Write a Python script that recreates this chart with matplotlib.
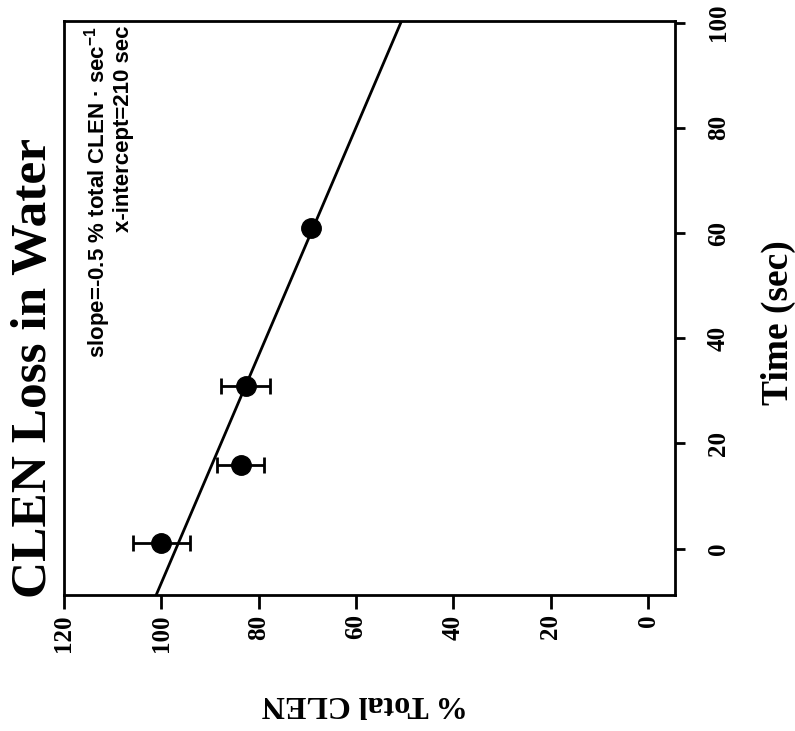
import matplotlib
matplotlib.use("Agg")
import matplotlib.pyplot as plt
from matplotlib import font_manager
import numpy as np

# Measurements: time after addition vs. percentage of total CLEN remaining
time_sec = [1, 16, 31, 61]
pct_total = [100.0, 83.7, 82.7, 69.3]
pct_err = [5.9, 4.8, 5.0, 0.5]

# Linear fit, defined by its intercepts
fit_y_intercept = 97.0      # % total CLEN at t = 0
fit_x_intercept = 210.0     # sec
fit_slope = -fit_y_intercept / fit_x_intercept

pct_ticks = [120, 100, 80, 60, 40, 20, 0]
time_ticks = [0, 20, 40, 60, 80, 100]

title_text = "CLEN Loss in Water"
slope_text = "slope=-0.5 % total CLEN \u00b7 sec$^{-1}$"
xint_text = "x-intercept=210 sec"
time_label = "Time (sec)"
pct_label = "% Total CLEN"

available = {f.name for f in font_manager.fontManager.ttflist}
narrow = "Liberation Sans Narrow" if "Liberation Sans Narrow" in available else "Liberation Sans"
serif = "Liberation Serif"

plt.rcParams["mathtext.fontset"] = "custom"
plt.rcParams["mathtext.rm"] = f"{narrow}:bold"
plt.rcParams["mathtext.bf"] = f"{narrow}:bold"
plt.rcParams["mathtext.default"] = "bf"

W, H = 795, 731
fig = plt.figure(figsize=(W / 100, H / 100), dpi=100)
ax = fig.add_axes([64 / W, 1 - 595 / H, (675 - 64) / W, (595 - 21) / H])

# Percent runs along the horizontal axis (decreasing to the right),
# time runs up the vertical axis on the right side.
ax.set_xlim(120, -5.5)
ax.set_ylim(-8.8, 100.3)

t_line = np.array(ax.get_ylim())
ax.plot(fit_y_intercept + fit_slope * t_line, t_line, color="black", lw=2.0, zorder=2)

ax.errorbar(pct_total, time_sec, xerr=pct_err, fmt="o", color="black",
            markersize=14, elinewidth=2.0, capsize=5.5, capthick=2.0, zorder=3)

for s in ax.spines.values():
    s.set_linewidth(2.0)

ax.set_xticks(pct_ticks)
ax.set_yticks(time_ticks)
ax.yaxis.tick_right()
ax.tick_params(axis="x", bottom=True, top=False, direction="out", length=10,
               width=2, pad=4)
ax.tick_params(axis="y", right=True, left=False, direction="out", length=7,
               width=2, pad=16)
ax.set_xticklabels([str(v) for v in pct_ticks], rotation=90,
                   fontfamily=serif, fontweight="bold", fontsize=18)
ax.set_yticklabels([str(v) for v in time_ticks], rotation=90, va="center",
                   fontfamily=serif, fontweight="bold", fontsize=18)

fig.text(34 / W, 1 - 368 / H, title_text, rotation=90, ha="center", va="center",
         fontfamily=serif, fontweight="bold", fontsize=37)
fig.text(82 / W, 1 - 26 / H, slope_text, rotation=90, ha="left", va="top",
         fontfamily=narrow, fontweight="bold", fontsize=16)
fig.text(113 / W, 1 - 26 / H, xint_text, rotation=90, ha="left", va="top",
         fontfamily=narrow, fontweight="bold", fontsize=16)

fig.text(778 / W, 1 - 323 / H, time_label, rotation=90, ha="center", va="center",
         fontfamily=serif, fontweight="bold", fontsize=27)
fig.text(365 / W, 1 - 703 / H, pct_label, rotation=180, ha="center", va="center",
         fontfamily=serif, fontweight="bold", fontsize=23)

fig.savefig("out.png", dpi=100)
